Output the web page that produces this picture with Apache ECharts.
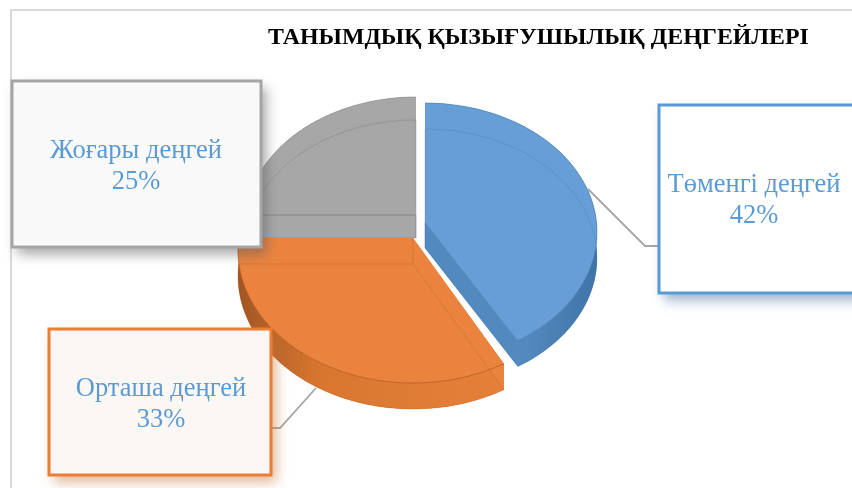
<!DOCTYPE html>
<html>
<head>
<meta charset="utf-8">
<style>html,body{margin:0;padding:0;background:#fff}#c{width:852px;height:488px}</style>
<script src="https://cdn.jsdelivr.net/npm/echarts@6/dist/echarts.min.js"></script>
</head>
<body>
<div id="c"></div>
<script>
const chartTitle = 'ТАНЫМДЫҚ ҚЫЗЫҒУШЫЛЫҚ ДЕҢГЕЙЛЕРІ';
const categories = ['Төменгі деңгей', 'Орташа деңгей', 'Жоғары деңгей'];
const values = [42, 33, 25];

// 3D look: per-slice placement of the tilted pie
const sliceLook = [
  {ax:425, ay:222, rx:172, ry:129, off:10, depth:26, z:3, top:'#659fd5', endShift:-0.03,
   faint:'rgba(60,105,155,0.22)', edge:'rgba(70,120,170,0.5)',
   side:[[0,'#5c96ce'],[0.6,'#5288bd'],[1,'#3f74a8']], wall:'#5289bf'},
  {ax:413, ay:238, rx:175, ry:133, off:12, depth:26, z:2, top:'#ea833e', endShift:0,
   faint:'rgba(175,90,30,0.3)', edge:'rgba(175,90,30,0.7)',
   side:[[0,'#a05524'],[0.3,'#d8762f'],[1,'#e5803a']], wall:'#ea833e'},
  {ax:416, ay:215, rx:171, ry:128, off:10, depth:23, z:1, top:'#a7a7a7', endShift:0,
   faint:'rgba(110,110,110,0.3)', edge:'rgba(130,130,130,0.5)',
   side:[[0,'#a7a7a7'],[1,'#a7a7a7']], wall:'#a7a7a7'}
];
const boxes = [
  {x:659, y:105, w:210, h:188, stroke:'#5b9bd5', fill:'#ffffff', tx:754, ty:200, shadow:'rgba(70,110,160,0.55)',
   leader:[[588,189],[645,246],[659,246]]},
  {x:49, y:329, w:222, h:146, stroke:'#ed7d31', fill:'#fbf7f5', tx:161, ty:404, shadow:'rgba(200,120,60,0.55)',
   leader:[[316,388],[280,428],[271,428]]},
  {x:12, y:81, w:249, h:166, stroke:'#a5a5a5', fill:'#f9f9f9', tx:136, ty:166, shadow:'rgba(90,90,90,0.55)',
   leader:null}
];
const textBlue = '#5b9bd5';
const total = values.reduce((a, b) => a + b, 0);

function rimAngle(theta, L) {
  const py = -L.off / L.ry, dx = Math.sin(theta), dy = -Math.cos(theta);
  const pd = py * dy, t = -pd + Math.sqrt(pd * pd + 1 - py * py);
  return Math.atan2(dx * t, -(py + dy * t));
}
function unwrap(a, ref) { while (a < ref - 1e-6) a += Math.PI * 2; return a; }

function renderSlice(params, api) {
  const i = params.dataIndex, L = sliceLook[i];
  let before = 0;
  for (let k = 0; k < i; k++) before += values[k];
  const t0 = before / total * Math.PI * 2;
  const t1 = (before + api.value(0)) / total * Math.PI * 2;
  const f0 = i === 0 ? 0 : unwrap(rimAngle(t0, L), 0);
  const f1 = i === values.length - 1 ? Math.PI * 2 : unwrap(rimAngle(t1, L), f0) + L.endShift;
  const cy = L.ay + L.off, arc = [];
  const n = 80;
  for (let k = 0; k <= n; k++) {
    const f = f0 + (f1 - f0) * k / n;
    arc.push([L.ax + L.rx * Math.sin(f), cy - L.ry * Math.cos(f)]);
  }
  const down = p => [p[0], p[1] + L.depth];
  const apex = [L.ax, L.ay];
  const topFace = [apex].concat(arc);
  const botFace = topFace.map(down);
  const sideBand = arc.concat(arc.slice().reverse().map(down));
  const first = arc[0], last = arc[arc.length - 1];
  const wallEnd = [first, apex, down(apex), down(first)];
  const wallStart = [last, apex, down(apex), down(last)];
  const sideFill = new echarts.graphic.LinearGradient(0, 0, 1, 0,
    L.side.map(s => ({offset:s[0], color:s[1]})));
  const z2 = L.z;
  const poly = (pts, style) => ({type:'polygon', z2, shape:{points:pts}, style});
  const line = (pts, stroke, w) => ({type:'polyline', z2, shape:{points:pts}, style:{fill:null, stroke, lineWidth:w}});
  const children = [
    poly(botFace, {fill:L.top}),
    poly(sideBand, {fill:sideFill}),
    poly(wallStart, {fill:L.wall}),
    poly(wallEnd, {fill:L.wall}),
    poly(topFace, {fill:L.top}),
    line(botFace.slice(1), L.faint, 1),
    line([down(first), down(apex), down(last)], L.faint, 1),
    line([apex, down(apex)], L.faint, 1),
    line(arc, L.edge, 1)
  ];
  if (i === values.length - 1) children.push(line([apex, first], '#959595', 2));
  const B = boxes[i];
  if (B.leader) children.push({type:'polyline', z2:5, shape:{points:B.leader}, style:{fill:null, stroke:'#a6a6a6', lineWidth:1.8}});
  const rectShape = {x:B.x, y:B.y, width:B.w, height:B.h};
  children.push({type:'rect', z2:9, shape:rectShape,
    style:{fill:B.fill, shadowColor:B.shadow, shadowBlur:12, shadowOffsetX:5, shadowOffsetY:7}});
  children.push({type:'rect', z2:10, shape:rectShape,
    style:{fill:B.fill, stroke:B.stroke, lineWidth:3}});
  children.push({type:'text', z2:11, style:{x:B.tx, y:B.ty + 1, text:categories[i] + '\n' + api.value(0) + '%',
    fill:textBlue, font:'26.5px "Liberation Serif"', lineHeight:31, align:'center', verticalAlign:'middle'}});
  return {type:'group', children};
}

const chart = echarts.init(document.getElementById('c'), null, {renderer:'canvas'});
chart.setOption({
  animation:false,
  backgroundColor:'#ffffff',
  title:{text:chartTitle, left:268, top:26, padding:0,
    textStyle:{fontFamily:'"Liberation Serif"', fontWeight:'bold', fontSize:23.85, color:'#000000'}},
  graphic:[{type:'polyline', silent:true, z:0, shape:{points:[[11,488],[11,10],[852,10]]},
    style:{fill:null, stroke:'#d9d9d9', lineWidth:2}}],
  series:[{type:'custom', coordinateSystem:'none', renderItem:renderSlice, silent:true,
    clip:false, data:values.map(v => [v])}]
});
</script>
</body>
</html>
